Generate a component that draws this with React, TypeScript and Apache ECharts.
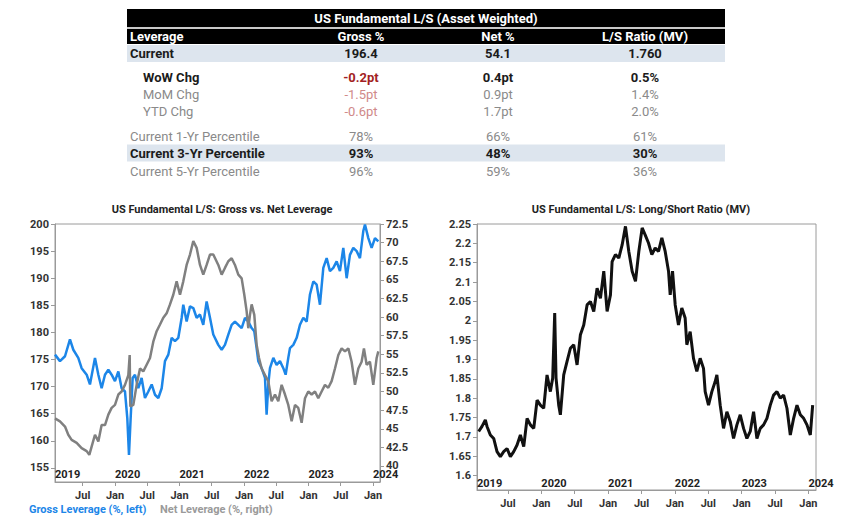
import React, { useEffect, useRef } from "react";
import * as echarts from "echarts";

// ---------- Table data ----------
const tableTitle = "US Fundamental L/S (Asset Weighted)";
const tableColumns = ["Leverage", "Gross %", "Net %", "L/S Ratio (MV)"];
const tableRowLabels = [
  "Current",
  "WoW Chg",
  "MoM Chg",
  "YTD Chg",
  "Current 1-Yr Percentile",
  "Current 3-Yr Percentile",
  "Current 5-Yr Percentile",
];
const grossCol = ["196.4", "-0.2pt", "-1.5pt", "-0.6pt", "78%", "93%", "96%"];
const netCol = ["54.1", "0.4pt", "0.9pt", "1.7pt", "66%", "48%", "59%"];
const ratioCol = ["1.760", "0.5%", "1.4%", "2.0%", "61%", "30%", "36%"];

// ---------- Chart titles / legend ----------
const leftTitle = "US Fundamental L/S: Gross vs. Net Leverage";
const rightTitle = "US Fundamental L/S: Long/Short Ratio (MV)";
const grossName = "Gross Leverage (%, left)";
const netName = "Net Leverage (%, right)";

// ---------- Axis ticks ----------
const monthTicks = [2019.5, 2020, 2020.5, 2021, 2021.5, 2022, 2022.5, 2023, 2023.5, 2024];
const grossTicks = [155, 160, 165, 170, 175, 180, 185, 190, 195, 200];
const netTicks = [40, 42.5, 45, 47.5, 50, 52.5, 55, 57.5, 60, 62.5, 65, 67.5, 70, 72.5];
const ratioTicks = [1.6, 1.65, 1.7, 1.75, 1.8, 1.85, 1.9, 1.95, 2, 2.05, 2.1, 2.15, 2.2, 2.25];

// ---------- Series (decimal year, value) ----------
const grossLeverage: [number, number][] = [
  [2019.07, 175.9], [2019.147, 174.7], [2019.225, 175.6], [2019.302, 178.7], [2019.354, 176.8],
  [2019.431, 175.3], [2019.483, 173.4], [2019.561, 172.2], [2019.612, 170.4], [2019.69, 175.3],
  [2019.742, 172.2], [2019.793, 169.7], [2019.845, 172.2], [2019.897, 173.1], [2019.948, 172.2],
  [2020.0, 171.0], [2020.052, 172.8], [2020.103, 169.7], [2020.155, 169.1], [2020.191, 164.2],
  [2020.217, 157.4], [2020.243, 164.2], [2020.274, 171.6], [2020.31, 172.2], [2020.362, 169.7],
  [2020.413, 171.6], [2020.465, 167.9], [2020.517, 169.1], [2020.569, 170.4], [2020.62, 168.5],
  [2020.672, 167.9], [2020.724, 169.7], [2020.775, 174.7], [2020.827, 175.9], [2020.879, 179.0],
  [2020.93, 178.4], [2020.982, 179.0], [2021.034, 182.7], [2021.059, 185.1], [2021.111, 182.0],
  [2021.163, 184.8], [2021.214, 184.5], [2021.266, 182.7], [2021.318, 183.3], [2021.369, 181.4],
  [2021.421, 185.7], [2021.473, 182.7], [2021.524, 179.6], [2021.602, 177.7], [2021.654, 176.8],
  [2021.705, 177.7], [2021.757, 179.6], [2021.809, 181.4], [2021.86, 182.0], [2021.912, 181.4],
  [2021.964, 180.8], [2022.016, 182.7], [2022.067, 182.0], [2022.119, 180.8], [2022.16, 180.2],
  [2022.196, 177.1], [2022.222, 174.7], [2022.274, 173.4], [2022.326, 171.6], [2022.351, 164.8],
  [2022.377, 170.4], [2022.403, 173.4], [2022.455, 175.3], [2022.506, 174.0], [2022.558, 174.7],
  [2022.61, 173.4], [2022.646, 172.2], [2022.687, 175.3], [2022.713, 177.1], [2022.765, 177.7],
  [2022.817, 179.0], [2022.868, 181.4], [2022.92, 182.7], [2022.972, 182.0], [2023.023, 187.0],
  [2023.075, 189.4], [2023.127, 188.8], [2023.178, 185.1], [2023.23, 191.9], [2023.282, 193.7],
  [2023.333, 191.3], [2023.385, 191.9], [2023.437, 193.1], [2023.488, 191.3], [2023.54, 195.6],
  [2023.592, 190.0], [2023.643, 194.3], [2023.695, 195.6], [2023.747, 195.0], [2023.798, 193.7],
  [2023.85, 198.7], [2023.876, 199.9], [2023.928, 197.4], [2023.979, 195.6], [2024.031, 197.4],
  [2024.083, 196.8],
];

const netLeverage: [number, number][] = [
  [2019.07, 46.4], [2019.147, 46.0], [2019.225, 45.3], [2019.276, 44.2], [2019.328, 43.5],
  [2019.406, 43.1], [2019.483, 42.4], [2019.561, 42.0], [2019.602, 41.5], [2019.638, 42.6],
  [2019.69, 44.2], [2019.742, 43.3], [2019.793, 45.5], [2019.845, 45.5], [2019.897, 46.9],
  [2019.948, 47.8], [2020.0, 48.2], [2020.052, 49.6], [2020.103, 50.0], [2020.155, 50.9],
  [2020.207, 52.2], [2020.228, 54.9], [2020.238, 48.0], [2020.284, 48.2], [2020.336, 50.9],
  [2020.388, 53.1], [2020.439, 52.7], [2020.491, 53.6], [2020.543, 54.5], [2020.594, 56.7],
  [2020.646, 58.1], [2020.698, 59.0], [2020.749, 59.9], [2020.801, 60.5], [2020.853, 61.7],
  [2020.904, 63.0], [2020.956, 64.8], [2021.008, 63.0], [2021.059, 64.8], [2021.111, 67.0],
  [2021.163, 68.4], [2021.214, 70.2], [2021.266, 69.3], [2021.318, 67.0], [2021.369, 65.7],
  [2021.421, 67.0], [2021.473, 68.4], [2021.524, 68.4], [2021.602, 67.0], [2021.654, 65.7],
  [2021.705, 66.6], [2021.757, 67.5], [2021.809, 67.9], [2021.86, 67.0], [2021.912, 65.7],
  [2021.964, 65.2], [2022.005, 63.0], [2022.041, 60.8], [2022.067, 58.5], [2022.093, 60.3],
  [2022.119, 61.7], [2022.16, 60.3], [2022.196, 56.3], [2022.233, 54.5], [2022.274, 53.1],
  [2022.326, 52.2], [2022.377, 51.4], [2022.429, 48.7], [2022.481, 49.6], [2022.532, 48.7],
  [2022.584, 50.9], [2022.636, 49.6], [2022.687, 48.2], [2022.739, 46.0], [2022.791, 48.2],
  [2022.842, 47.8], [2022.894, 45.8], [2022.946, 49.1], [2022.997, 50.0], [2023.049, 49.6],
  [2023.101, 50.0], [2023.152, 49.1], [2023.204, 50.0], [2023.256, 50.9], [2023.307, 50.5],
  [2023.359, 51.4], [2023.411, 53.1], [2023.463, 54.9], [2023.514, 55.8], [2023.566, 55.4],
  [2023.618, 55.8], [2023.669, 54.0], [2023.721, 50.9], [2023.773, 53.1], [2023.824, 54.0],
  [2023.86, 55.8], [2023.902, 53.6], [2023.953, 54.0], [2024.005, 50.9], [2024.057, 54.5],
  [2024.083, 55.4],
];

const lsRatio: [number, number][] = [
  [2019.061, 1.714], [2019.111, 1.727], [2019.161, 1.744], [2019.186, 1.727], [2019.236, 1.705],
  [2019.286, 1.696], [2019.336, 1.662], [2019.386, 1.649], [2019.436, 1.662], [2019.486, 1.67],
  [2019.536, 1.649], [2019.586, 1.662], [2019.636, 1.679], [2019.686, 1.705], [2019.736, 1.675],
  [2019.786, 1.748], [2019.836, 1.731], [2019.886, 1.722], [2019.936, 1.795], [2019.985, 1.782],
  [2020.035, 1.774], [2020.085, 1.86], [2020.135, 1.817], [2020.17, 1.852], [2020.2, 2.02],
  [2020.22, 1.852], [2020.26, 1.782], [2020.285, 1.757], [2020.335, 1.86], [2020.385, 1.895],
  [2020.435, 1.929], [2020.485, 1.938], [2020.535, 1.886], [2020.585, 1.964], [2020.635, 1.989],
  [2020.685, 2.041], [2020.735, 2.05], [2020.785, 2.024], [2020.835, 2.084], [2020.885, 2.058],
  [2020.935, 2.128], [2020.985, 2.024], [2021.035, 2.067], [2021.06, 2.153], [2021.11, 2.171],
  [2021.16, 2.162], [2021.21, 2.196], [2021.26, 2.244], [2021.31, 2.179], [2021.36, 2.128],
  [2021.41, 2.102], [2021.46, 2.179], [2021.51, 2.24], [2021.555, 2.222], [2021.605, 2.201],
  [2021.655, 2.171], [2021.705, 2.188], [2021.755, 2.179], [2021.805, 2.214], [2021.855, 2.179],
  [2021.905, 2.128], [2021.93, 2.067], [2021.965, 2.128], [2022.005, 2.041], [2022.054, 1.989],
  [2022.104, 2.033], [2022.154, 2.007], [2022.179, 1.938], [2022.229, 1.972], [2022.279, 1.903],
  [2022.329, 1.869], [2022.379, 1.903], [2022.429, 1.877], [2022.454, 1.817], [2022.504, 1.782],
  [2022.554, 1.817], [2022.604, 1.843], [2022.629, 1.86], [2022.679, 1.782], [2022.729, 1.722],
  [2022.779, 1.765], [2022.829, 1.74], [2022.879, 1.696], [2022.929, 1.731], [2022.979, 1.757],
  [2023.029, 1.722], [2023.079, 1.696], [2023.129, 1.714], [2023.179, 1.765], [2023.229, 1.696],
  [2023.279, 1.722], [2023.329, 1.731], [2023.379, 1.748], [2023.429, 1.782], [2023.479, 1.808],
  [2023.529, 1.817], [2023.579, 1.8], [2023.629, 1.808], [2023.679, 1.774], [2023.729, 1.705],
  [2023.779, 1.748], [2023.829, 1.782], [2023.879, 1.757], [2023.929, 1.748], [2023.979, 1.731],
  [2024.029, 1.705], [2024.064, 1.782],
];

// axis ranges
const leftStart = 2019.07;
const leftEnd = 2024.109;
const rightStart = 2019.036;
const rightEnd = 2024.114;

const FONT = "Roboto, 'Noto Sans', sans-serif";
const AXIS_COLOR = "#9a9a9a";
const BLUE = "#1c86e8";
const GRAY = "#808080";

function buildTable(): any[] {
  const els: any[] = [];
  const x0 = 127;
  const w = 598;
  const colX = [130, 361, 498, 645];
  els.push({ type: "rect", shape: { x: x0, y: 9, width: w, height: 18 }, style: { fill: "#000" } });
  els.push({ type: "rect", shape: { x: x0, y: 27, width: w, height: 2 }, style: { fill: "#c8c8c8" } });
  els.push({ type: "rect", shape: { x: x0, y: 29, width: w, height: 15 }, style: { fill: "#000" } });
  els.push({
    type: "text",
    x: 426,
    y: 18,
    style: { text: tableTitle, fill: "#fff", font: `bold 13px ${FONT}`, align: "center", verticalAlign: "middle" },
  });
  tableColumns.forEach((c, i) => {
    els.push({
      type: "text",
      x: colX[i],
      y: 36.5,
      style: {
        text: c,
        fill: "#fff",
        font: `bold 13px ${FONT}`,
        align: i === 0 ? "left" : "center",
        verticalAlign: "middle",
      },
    });
  });
  const rowY = [53.5, 77, 94, 111, 136, 153, 171];
  const shaded = [true, false, false, false, false, true, false];
  const bold = [true, true, false, false, false, true, false];
  const indent = [false, true, true, true, false, false, false];
  rowY.forEach((y, r) => {
    if (shaded[r]) {
      els.push({ type: "rect", shape: { x: x0, y: y - 8.5, width: w, height: 17 }, style: { fill: "#dde5ee" } });
    }
  });
  rowY.forEach((y, r) => {
    const baseColor = bold[r] ? "#1b1b1b" : "#8a8a8a";
    const font = `${bold[r] ? "bold " : ""}13px ${FONT}`;
    els.push({
      type: "text",
      x: indent[r] ? 143 : 130,
      y,
      style: { text: tableRowLabels[r], fill: baseColor, font, align: "left", verticalAlign: "middle" },
    });
    [grossCol[r], netCol[r], ratioCol[r]].forEach((v, c) => {
      let fill = baseColor;
      if (v.startsWith("-")) fill = bold[r] ? "#a31f24" : "#d08a8a";
      els.push({
        type: "text",
        x: colX[c + 1],
        y,
        style: { text: v, fill, font, align: "center", verticalAlign: "middle" },
      });
    });
  });
  return els;
}

export default function App() {
  const ref = useRef<HTMLDivElement>(null);
  useEffect(() => {
    if (!ref.current) return;
    const chart = echarts.init(ref.current, null, { renderer: "svg" });
    const tickFont = { fontFamily: FONT, fontSize: 11, fontWeight: "bold" as const, color: "#333" };
    const monthAxis = (grid: number, min: number, max: number) => ({
      gridIndex: grid,
      type: "value",
      min,
      max,
      position: "bottom",
      axisLine: { show: true, onZero: false, lineStyle: { color: AXIS_COLOR, width: 1 } },
      axisTick: { show: true, customValues: monthTicks, length: 4, lineStyle: { color: AXIS_COLOR } },
      axisLabel: {
        show: true,
        customValues: monthTicks,
        formatter: (v: number) => (Math.abs(v - Math.round(v)) < 1e-6 ? "Jan" : "Jul"),
        margin: 8,
        ...tickFont,
      },
      splitLine: { show: false },
    });
    const yearAxis = (grid: number, min: number, max: number, margin: number) => ({
      gridIndex: grid,
      type: "value",
      min,
      max,
      position: "bottom",
      axisLine: { show: false },
      axisTick: { show: false },
      axisLabel: {
        show: true,
        inside: true,
        customValues: [min, 2020, 2021, 2022, 2023, 2024],
        formatter: (v: number) => String(Math.floor(v + 1e-6)),
        align: "left",
        margin,
        ...tickFont,
        color: "#222",
      },
      splitLine: { show: false },
    });
    const valueAxis = (grid: number, position: string, min: number, max: number, ticks: number[]) => ({
      gridIndex: grid,
      type: "value",
      position,
      min,
      max,
      axisLine: { show: true, onZero: false, lineStyle: { color: AXIS_COLOR, width: 1 } },
      axisTick: { show: true, customValues: ticks, length: 4, lineStyle: { color: AXIS_COLOR } },
      axisLabel: {
        show: true,
        customValues: ticks,
        margin: 6,
        formatter: (v: number) => String(+v.toFixed(2)),
        ...tickFont,
      },
      splitLine: { show: false },
    });

    chart.setOption({
      animation: false,
      backgroundColor: "#fff",
      title: [
        {
          text: leftTitle,
          left: 222,
          top: 204,
          textAlign: "center",
          padding: 0,
          textStyle: { fontFamily: FONT, fontSize: 11, fontWeight: "bold", color: "#222" },
        },
        {
          text: rightTitle,
          left: 641,
          top: 204,
          textAlign: "center",
          padding: 0,
          textStyle: { fontFamily: FONT, fontSize: 11, fontWeight: "bold", color: "#222" },
        },
      ],
      grid: [
        {
          left: 55,
          top: 224,
          width: 325,
          height: 258,
          show: true,
          borderColor: AXIS_COLOR,
          borderWidth: 1,
          backgroundColor: "transparent",
          containLabel: false,
          outerBoundsMode: "none",
        },
        {
          left: 477,
          top: 224,
          width: 339,
          height: 266,
          show: true,
          borderColor: AXIS_COLOR,
          borderWidth: 1,
          backgroundColor: "transparent",
          containLabel: false,
          outerBoundsMode: "none",
        },
      ],
      xAxis: [
        monthAxis(0, leftStart, leftEnd),
        yearAxis(0, leftStart, leftEnd, 2),
        monthAxis(1, rightStart, rightEnd),
        yearAxis(1, rightStart, rightEnd, 1),
      ],
      yAxis: [
        valueAxis(0, "left", 152.4, 200, grossTicks),
        valueAxis(0, "right", 37.85, 72.5, netTicks),
        valueAxis(1, "left", 1.5628, 2.25, ratioTicks),
      ],
      series: [
        {
          name: grossName,
          type: "line",
          xAxisIndex: 0,
          yAxisIndex: 0,
          data: grossLeverage,
          symbol: "none",
          lineStyle: { color: BLUE, width: 2.5 },
          z: 2,
        },
        {
          name: netName,
          type: "line",
          xAxisIndex: 0,
          yAxisIndex: 1,
          data: netLeverage,
          symbol: "none",
          lineStyle: { color: GRAY, width: 2.5 },
          z: 3,
        },
        {
          name: "L/S Ratio (MV)",
          type: "line",
          xAxisIndex: 2,
          yAxisIndex: 2,
          data: lsRatio,
          symbol: "none",
          lineStyle: { color: "#111", width: 3 },
        },
      ],
      graphic: [
        ...buildTable(),
        {
          type: "text",
          x: 29,
          y: 509,
          style: { text: grossName, fill: BLUE, font: `bold 11px ${FONT}`, align: "left", verticalAlign: "middle" },
        },
        {
          type: "text",
          x: 160,
          y: 509,
          style: { text: netName, fill: "#9a9a9a", font: `bold 11px ${FONT}`, align: "left", verticalAlign: "middle" },
        },
      ],
    });
    return () => chart.dispose();
  }, []);
  return (
    <div
      ref={ref}
      style={{ position: "fixed", left: 0, top: 0, width: 848, height: 527, background: "#fff" }}
    />
  );
}
